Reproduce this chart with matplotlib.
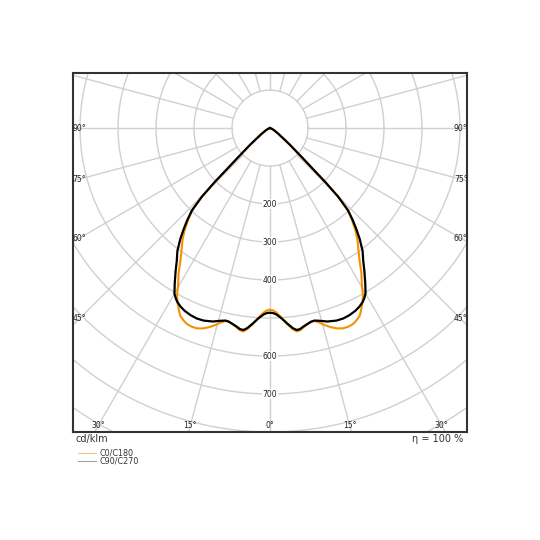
import matplotlib.pyplot as plt
import numpy as np

# luminous intensity distribution, cd/klm, symmetric halves
gamma_c90 = [0, 1, 2, 3.5, 5, 6.5, 7.5, 8.5, 9.5, 10.5, 12, 13, 14.5, 16.5, 19, 21, 23, 25, 26.5, 28, 29, 30,
             31.5, 33.5, 35, 37, 39, 40.5, 42, 43.5, 44.8, 45.7, 46.5, 47.5, 48.5, 50, 52, 56, 62, 70, 90]
int_c90 = [486, 487, 491, 502, 516, 530, 536, 535, 530, 526, 521, 520, 524, 531, 536, 537, 535, 531, 526, 519, 512, 503,
           480, 450, 428, 405, 375, 350, 325, 298, 255, 202, 150, 115, 90, 68, 45, 25, 12, 5, 0]

gamma_c0 = [0, 1, 2, 3.5, 5, 6.5, 7.5, 8.5, 9.5, 10.5, 12, 13, 14.5, 15.5, 17, 18.5, 20, 21.5, 23, 24, 25.5, 26.5,
            27.8, 29, 30, 31.1, 32.3, 34, 36, 38.2, 40, 42, 43.5, 44.8, 45.7, 46.5, 47.5, 48.5, 50, 52, 56, 62, 70, 90]
int_c0 = [478, 480, 486, 500, 518, 533, 540, 538, 532, 527, 521, 521, 530, 538, 548, 556, 561, 562, 560, 556, 548, 537,
          521, 505, 485, 467, 450, 422, 396, 372, 349, 320, 296, 255, 202, 150, 115, 90, 68, 45, 25, 12, 5, 0]

ring_values = [100, 200, 300, 400, 500, 600, 700, 800, 900, 1000]
ring_labels = [200, 300, 400, 600, 700]
side_angles = [90, 75, 60, 45]
bottom_angles = [30, 15, 0]

grid_col = '#d0d0d0'
txt_col = '#222222'


def curve(gam, inten):
    g = np.radians(gam)
    r = np.array(inten, dtype=float)
    xr = r * np.sin(g)
    y = -r * np.cos(g)
    x = np.concatenate([-xr[::-1], xr[1:]])
    y = np.concatenate([y[::-1], y[1:]])
    return x, y


fig = plt.figure(figsize=(5.4, 5.4), dpi=100)
ax = fig.add_axes([73 / 540, 1 - 432 / 540, 394 / 540, 359 / 540])
xmin, xmax, ymin, ymax = -518, 518, -800, 145
ax.set_xlim(xmin, xmax)
ax.set_ylim(ymin, ymax)
ax.set_aspect('equal')
ax.set_xticks([])
ax.set_yticks([])
for s in ax.spines.values():
    s.set_color('#333333')
    s.set_linewidth(1.5)

# polar grid
t = np.linspace(0, 2 * np.pi, 400)
for r in ring_values:
    ax.plot(r * np.cos(t), r * np.sin(t), color=grid_col, lw=1.0, zorder=1)
for a in range(0, 360, 15):
    ar = np.radians(a)
    ax.plot([100 * np.sin(ar), 1200 * np.sin(ar)], [-100 * np.cos(ar), -1200 * np.cos(ar)],
            color=grid_col, lw=1.0, zorder=1)

for r in ring_labels:
    ax.text(0, -r, str(r), ha='center', va='center', fontsize=5.5, color=txt_col, zorder=2,
            bbox=dict(boxstyle='square,pad=0.1', fc='white', ec='none'))

# angle labels along the frame
dx = 16
for a in side_angles:
    xc = xmax - dx
    yc = -xc / np.tan(np.radians(a)) if a != 90 else 0
    ax.text(-xc, yc, f'{a}°', ha='center', va='center', fontsize=5.5, color=txt_col, zorder=2)
    ax.text(xc, yc, f'{a}°', ha='center', va='center', fontsize=5.5, color=txt_col, zorder=2)
yb = ymin + 18
for a in bottom_angles:
    xc = -yb * np.tan(np.radians(a))
    ax.text(-xc, yb, f'{a}°', ha='center', va='center', fontsize=5.5, color=txt_col, zorder=2)
    if a != 0:
        ax.text(xc, yb, f'{a}°', ha='center', va='center', fontsize=5.5, color=txt_col, zorder=2)

x0, y0 = curve(gamma_c0, int_c0)
x90, y90 = curve(gamma_c90, int_c90)
ax.plot(x0, y0, color='#f39200', lw=1.5, zorder=3, solid_joinstyle='round')
ax.plot(x90, y90, color='black', lw=1.6, zorder=4, solid_joinstyle='round')

fig.text(76 / 540, 1 - 439 / 540, 'cd/klm', ha='left', va='center', fontsize=7, color='#333333')
fig.text(463 / 540, 1 - 439 / 540, 'η = 100 %', ha='right', va='center', fontsize=7, color='#333333')

# legend
for yy, col, lab in [(453, '#f7c46c', 'C0/C180'), (461, '#9a9a9a', 'C90/C270')]:
    fig.add_artist(plt.Line2D([78 / 540, 96 / 540], [1 - yy / 540, 1 - yy / 540], color=col, lw=0.7))
    fig.text(100 / 540, 1 - yy / 540, lab, ha='left', va='center', fontsize=5.8, color='#333333')

fig.savefig('out.png', dpi=100)
